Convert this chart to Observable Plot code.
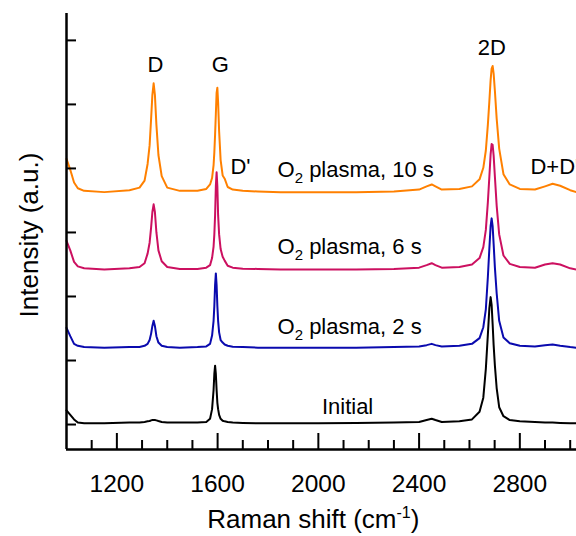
<!DOCTYPE html>
<html>
<head>
<meta charset="utf-8">
<script src="https://cdn.jsdelivr.net/npm/d3@7"></script>
<script src="https://cdn.jsdelivr.net/npm/@observablehq/plot@0.6"></script>
<style>
  html, body { margin: 0; padding: 0; background: #fff; overflow: hidden; }
  #chart svg { display: block; }
</style>
</head>
<body>
<div id="chart"></div>
<script>
// Raman shift grid (cm^-1)
const shifts = [1000,1015,1030,1045,1070,1150,1250,1290,1310,1322,1330,1336,1341,1346,1351,1357,1365,1378,1400,1450,
  1520,1555,1570,1578,1584,1587,1590,1593,1596,1599,1602,1606,1612,1620,1628,1640,1660,1700,1760,1850,
  2000,2150,2300,2400,2430,2450,2465,2490,2560,2610,2640,2655,2665,2673,2679,2684,2688,2692,2696,2701,
  2708,2718,2735,2760,2800,2860,2900,2930,2960,3000,3025];

// Intensities above each spectrum's own baseline (a.u.)
const initialI = [0.20,0.13,0.06,0.01,0.00,0.00,0.01,0.01,0.02,0.03,0.035,0.045,0.05,0.05,0.05,0.045,0.035,0.02,0.01,0.01,
  0.01,0.02,0.07,0.22,0.52,0.77,0.90,0.77,0.52,0.32,0.22,0.13,0.07,0.04,0.03,0.02,0.01,0.005,0.00,0.00,
  0.00,0.005,0.01,0.02,0.05,0.07,0.05,0.02,0.03,0.06,0.18,0.40,0.85,1.38,1.80,1.97,1.85,1.55,1.22,0.90,
  0.55,0.25,0.11,0.05,0.03,0.02,0.01,0.01,0.005,0.00,0.00];
const plasma2s = [0.31,0.18,0.06,0.03,0.01,0.00,0.01,0.01,0.03,0.06,0.12,0.22,0.34,0.42,0.34,0.18,0.08,0.03,0.01,0.00,
  0.01,0.02,0.06,0.19,0.42,0.65,0.98,1.16,0.98,0.65,0.42,0.24,0.12,0.08,0.05,0.03,0.015,0.01,0.00,0.00,
  0.00,0.00,0.01,0.02,0.04,0.06,0.04,0.02,0.03,0.06,0.15,0.32,0.60,1.10,1.55,1.90,2.02,1.90,1.62,1.25,
  0.85,0.42,0.16,0.07,0.03,0.02,0.04,0.05,0.03,0.01,0.00];
const plasma6s = [0.45,0.30,0.12,0.05,0.02,0.00,0.02,0.04,0.10,0.25,0.42,0.66,0.90,1.02,0.90,0.58,0.30,0.13,0.04,0.01,
  0.01,0.03,0.07,0.18,0.36,0.55,0.85,1.30,1.52,1.30,0.85,0.55,0.32,0.20,0.14,0.06,0.03,0.015,0.01,0.00,
  0.00,0.00,0.01,0.03,0.07,0.10,0.07,0.03,0.04,0.08,0.18,0.35,0.62,1.05,1.45,1.80,1.96,1.95,1.78,1.45,
  1.00,0.55,0.22,0.09,0.04,0.03,0.08,0.10,0.08,0.02,0.00];
const plasma10s = [0.52,0.35,0.15,0.06,0.02,0.00,0.03,0.07,0.18,0.44,0.73,1.15,1.52,1.70,1.52,1.05,0.58,0.25,0.07,0.02,
  0.02,0.05,0.12,0.22,0.42,0.62,0.90,1.22,1.55,1.63,1.40,0.95,0.50,0.26,0.21,0.08,0.04,0.02,0.01,0.00,
  0.00,0.00,0.01,0.04,0.09,0.12,0.09,0.04,0.05,0.09,0.20,0.38,0.65,1.05,1.42,1.75,1.93,1.97,1.85,1.58,
  1.15,0.68,0.28,0.12,0.05,0.04,0.09,0.13,0.10,0.03,0.00];

const seriesNames = ["O2 plasma, 10 s", "O2 plasma, 6 s", "O2 plasma, 2 s", "Initial"];
const seriesValues = [plasma10s, plasma6s, plasma2s, initialI];
const seriesOffsets = [3.63, 2.42, 1.20, 0.02];
const seriesColors = ["#FF8000", "#CC1060", "#0A0AAE", "#000000"];

// Label positions
const seriesLabelX = [1838, 1838, 1838, 2116];
const seriesLabelY = [3.98, 2.77, 1.52, 0.28];
const seriesLabelAnchor = ["start", "start", "start", "middle"];

const peakNames = ["D", "G", "D'", "2D", "D+D'"];
const peakLabelX = [1353, 1611, 1651, 2689, 2842];
const peakLabelY = [5.62, 5.62, 4.03, 5.88, 4.02];
const peakLabelAnchor = ["middle", "middle", "start", "middle", "start"];

// Axis ticks
const xMajorTicks = [1200, 1600, 2000, 2400, 2800];
const xMinorTicks = [1100, 1300, 1400, 1500, 1700, 1800, 1900, 2100, 2200, 2300, 2500, 2600, 2700, 2900, 3000];
const yTicks = [0, 1, 2, 3, 4, 5, 6];
const xDomain = [1000, 3025];
const yDomain = [-0.39, 6.42];

const W = 576, H = 536;
const mL = 66, mR = 0, mT = 13, mB = 87;
const frameW = W - mL - mR, frameH = H - mT - mB;

const lineMarks = seriesNames.map((name, s) => {
  const rows = shifts.map((x, i) => ({x, y: seriesValues[s][i] + seriesOffsets[s]}));
  return Plot.line(rows, {x: "x", y: "y", stroke: seriesColors[s], strokeWidth: 2, strokeLinejoin: "round"});
});

const labels = [
  ...seriesNames.map((name, i) => ({text: name, x: seriesLabelX[i], y: seriesLabelY[i], anchor: seriesLabelAnchor[i]})),
  ...peakNames.map((name, i) => ({text: name, x: peakLabelX[i], y: peakLabelY[i], anchor: peakLabelAnchor[i]}))
];

const chart = Plot.plot({
  width: W,
  height: H,
  marginLeft: mL,
  marginRight: mR,
  marginTop: mT,
  marginBottom: mB,
  style: {fontFamily: "'Liberation Sans', Arial, sans-serif", fontSize: "22px", background: "white", color: "black", overflow: "hidden"},
  x: {domain: xDomain, axis: null},
  y: {domain: yDomain, axis: null},
  marks: [
    ...lineMarks,
    // axis lines
    Plot.ruleX([xDomain[0]], {stroke: "black", strokeWidth: 2.5}),
    Plot.ruleY([yDomain[0]], {stroke: "black", strokeWidth: 2.5}),
    // inward ticks
    Plot.tickX(xMajorTicks, {x: d => d, stroke: "black", strokeWidth: 2, insetTop: frameH - 16}),
    Plot.tickX(xMinorTicks, {x: d => d, stroke: "black", strokeWidth: 2, insetTop: frameH - 9}),
    Plot.tickY(yTicks, {y: d => d, stroke: "black", strokeWidth: 2, insetRight: frameW - 10}),
    // tick labels
    Plot.text(xMajorTicks, {x: d => d, text: d => String(d), frameAnchor: "bottom", textAnchor: "middle", lineAnchor: "top", dy: 25.5, fontSize: 24.5, fill: "black"}),
    // axis titles
    Plot.text(["Raman shift (cm-1)"], {x: [1980], text: d => d, frameAnchor: "bottom", textAnchor: "middle", lineAnchor: "top", dy: 60, fontSize: 26, fill: "black"}),
    Plot.text(["Intensity (a.u.)"], {y: [2.96], text: d => d, frameAnchor: "left", dx: -37, rotate: -90, textAnchor: "middle", lineAnchor: "middle", fontSize: 26, fill: "black"}),
    // annotations
    Plot.text(labels.filter(d => d.anchor === "start"), {x: "x", y: "y", text: "text", textAnchor: "start", lineAnchor: "middle", fontSize: 22, fill: "black"}),
    Plot.text(labels.filter(d => d.anchor === "middle"), {x: "x", y: "y", text: "text", textAnchor: "middle", lineAnchor: "middle", fontSize: 22, fill: "black"})
  ]
});

document.getElementById("chart").appendChild(chart);

// Sub- and superscripts as real text
d3.select(chart).selectAll("text").each(function() {
  const el = d3.select(this);
  if (this.querySelector("tspan")) return;
  const t = this.textContent;
  if (t.startsWith("O2 ")) {
    el.text(null);
    el.append("tspan").text("O");
    el.append("tspan").attr("dy", 6).attr("font-size", 15).text("2");
    el.append("tspan").attr("dy", -6).text(t.slice(2));
  } else if (t === "Raman shift (cm-1)") {
    el.text(null);
    el.append("tspan").text("Raman shift (cm");
    el.append("tspan").attr("dy", -10).attr("font-size", 16).text("-1");
    el.append("tspan").attr("dy", 10).text(")");
  }
});
</script>
</body>
</html>
